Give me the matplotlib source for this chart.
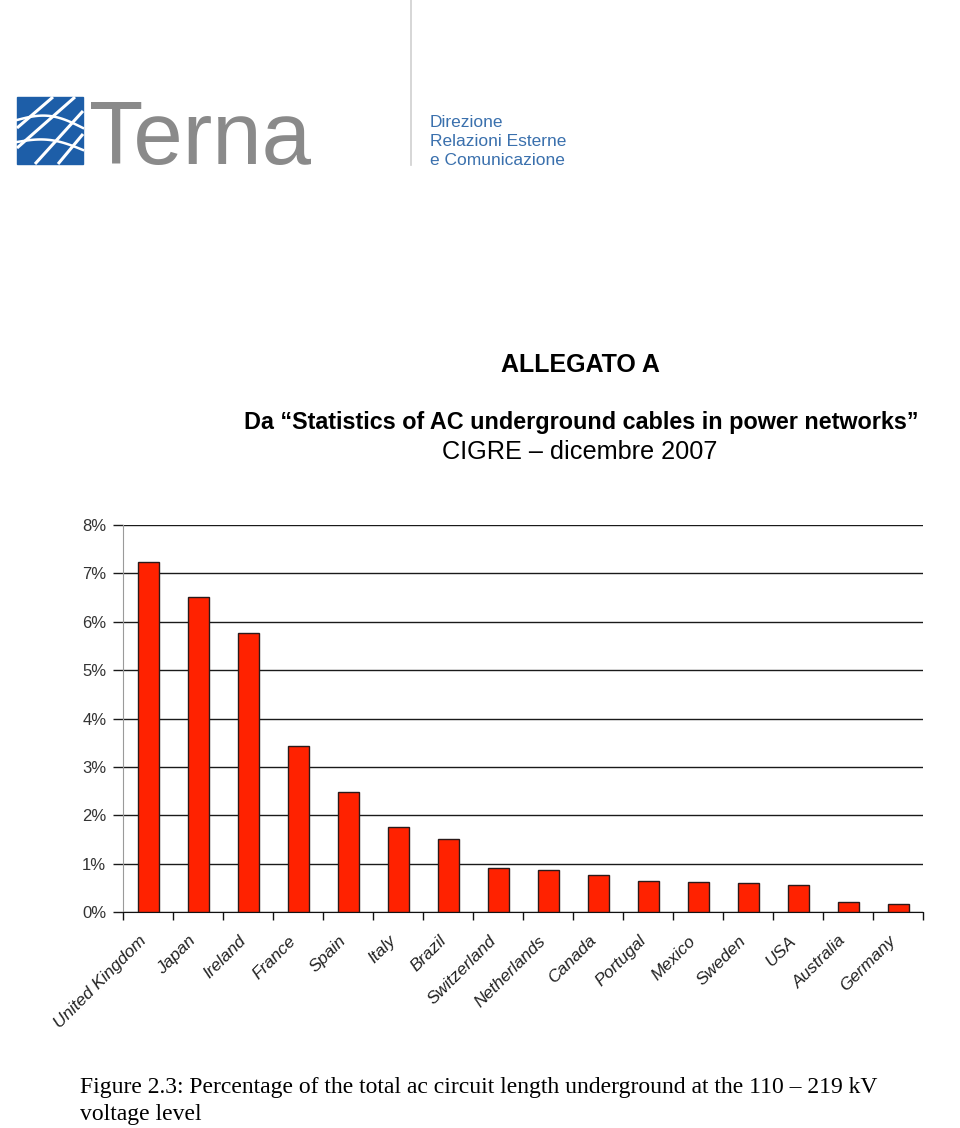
import numpy as np
import matplotlib.pyplot as plt
import matplotlib.transforms as mtransforms
from matplotlib.ticker import FixedLocator

# data
countries = ['United Kingdom', 'Japan', 'Ireland', 'France', 'Spain', 'Italy',
             'Brazil', 'Switzerland', 'Netherlands', 'Canada', 'Portugal',
             'Mexico', 'Sweden', 'USA', 'Australia', 'Germany']
share_pct = [7.23, 6.51, 5.77, 3.43, 2.49, 1.76, 1.51, 0.91, 0.87, 0.77,
             0.65, 0.63, 0.61, 0.56, 0.21, 0.18]
y_ticks = [0, 1, 2, 3, 4, 5, 6, 7, 8]
y_labels = ['%d%%' % t for t in y_ticks]

header_lines = ['Direzione', 'Relazioni Esterne', 'e Comunicazione']
title_top = 'ALLEGATO A'
title_main = 'Da \u201cStatistics of AC underground cables in power networks\u201d'
title_sub = 'CIGRE \u2013 dicembre 2007'
caption = ['Figure 2.3: Percentage of the total ac circuit length underground at the 110 \u2013 219 kV',
           'voltage level']

W, H = 960, 1128
fig = plt.figure(figsize=(W / 100, H / 100), dpi=100)
fig.patch.set_facecolor('white')

# page overlay in pixel coordinates (logo, titles, caption)
page = fig.add_axes([0, 0, 1, 1])
page.set_xlim(0, W)
page.set_ylim(H, 0)
page.axis('off')

# logo square with white "net" lines
page.add_patch(plt.Rectangle((17, 97), 66, 67, color='#1d5ea8'))
for (x0, y0, x1, y1) in [(17, 128, 53, 97), (17, 148, 75, 97), (35, 164, 83, 111),
                         (58, 164, 83, 134)]:
    page.plot([x0, x1], [y0, y1], color='white', lw=2.2, solid_capstyle='butt')
t = np.linspace(0, 1, 30)
for ys, bow in [(120, 8), (142, 6)]:
    page.plot(17 + 66 * t, ys - bow * np.sin(np.pi * t) + 8 * t, color='white', lw=1.8)
page.text(89, 164, 'Terna', fontsize=64, color='#8a8a8a', family='Liberation Sans',
          ha='left', va='baseline')
page.plot([411, 411], [0, 165], color='#cfcfcf', lw=1.2)
for i, s in enumerate(header_lines):
    page.text(430, 127 + 19 * i, s, fontsize=12.5, color='#3a70ad',
              family='Liberation Sans', ha='left', va='baseline')

# titles
page.text(580, 372, title_top, fontsize=18, fontweight='bold',
          family='Liberation Sans', ha='center', va='baseline')
page.text(581, 429, title_main, fontsize=16.8, fontweight='bold',
          family='Liberation Sans', ha='center', va='baseline')
page.text(580, 459, title_sub, fontsize=18.2,
          family='Liberation Sans', ha='center', va='baseline')

# caption
page.text(80, 1093, caption[0], fontsize=17, family='Liberation Serif', ha='left', va='baseline')
page.text(80, 1120, caption[1], fontsize=17, family='Liberation Serif', ha='left', va='baseline')

# bar chart
ax = fig.add_axes([123 / W, 1 - 912.3 / H, 800 / W, (912.3 - 525) / H])
x = np.arange(len(countries))
ax.bar(x, share_pct, width=0.42, color='#ff2200', edgecolor='#2a1a1a', linewidth=1, zorder=3)
ax.set_xlim(-0.5, len(countries) - 0.5)
ax.set_ylim(0, 8)
ax.set_yticks(y_ticks)
ax.set_yticklabels(y_labels, fontsize=12, color='#333333', family='Liberation Sans')
ax.yaxis.grid(True, color='#1a1a1a', lw=1)
ax.tick_params(axis='y', length=7, color='#1a1a1a', pad=5, width=1)

ax.set_xticks(x)
ax.set_xticklabels(countries, rotation=45, ha='right', rotation_mode='anchor',
                   fontsize=12.5, style='italic', family='Liberation Sans', color='#222222')
ax.tick_params(axis='x', which='major', length=0, pad=15)
shift = mtransforms.ScaledTranslation(-7 / 72, 0, fig.dpi_scale_trans)
for lbl in ax.get_xticklabels():
    lbl.set_transform(lbl.get_transform() + shift)
ax.xaxis.set_minor_locator(FixedLocator(np.arange(-0.5, len(countries), 1.0)))
ax.tick_params(axis='x', which='minor', length=6, width=1, color='#111111', direction='out')

for side in ['top', 'right']:
    ax.spines[side].set_visible(False)
ax.spines['left'].set_color('#9a9a9a')
ax.spines['bottom'].set_color('#111111')
ax.set_facecolor('none')

fig.savefig('out.png', dpi=100, facecolor='white')
